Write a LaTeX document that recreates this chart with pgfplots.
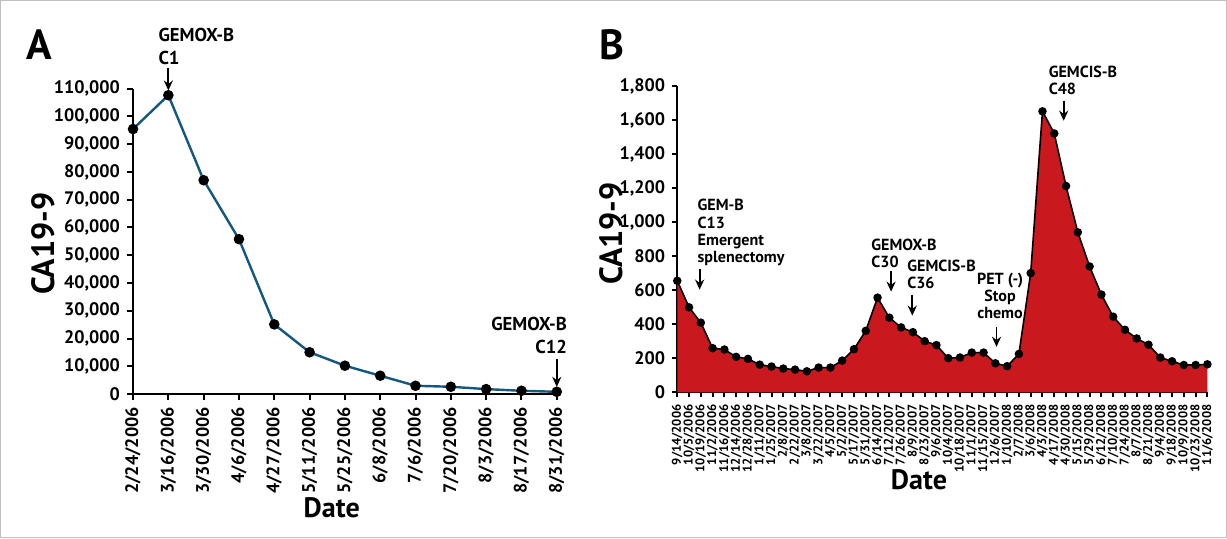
\documentclass[border=0pt]{standalone}
\usepackage{fontspec}
\setmainfont{PT Sans}
\usepackage{pgfplots}
\usepackage{pgfplotstable}
\pgfplotsset{compat=1.18}
\usetikzlibrary{arrows.meta}
\definecolor{lineblue}{HTML}{14587F}
\definecolor{fillred}{HTML}{C9191F}

% CA19-9, first line of therapy
\pgfplotstableread{
idx ca
0 95430
1 107600
2 77000
3 55780
4 25100
5 15070
6 10230
7 6620
8 3000
9 2640
10 1800
11 1200
12 830
}\panelA

% CA19-9, later lines
\pgfplotstableread{
idx ca
0 656
1 500
2 410
3 260
4 252
5 209
6 197
7 163
8 152
9 140
10 134
11 124
12 146
13 146
14 187
15 254
16 362
17 557
18 439
19 382
20 354
21 301
22 278
23 201
24 205
25 234
26 234
27 171
28 154
29 226
30 701
31 1652
32 1522
33 1213
34 941
35 740
36 575
37 445
38 368
39 317
40 280
41 205
42 183
43 161
44 161
45 165
}\panelB

\pgfplotsset{
  ca/.style={
    scale only axis, clip=false,
    axis x line*=bottom, axis y line*=left,
    axis line style={line width=1pt},
    tick align=outside, major tick length=3pt,
    every tick/.style={black, line width=1pt},
    scaled y ticks=false,
    tick label style={font=\bfseries\fontsize{9}{10}\selectfont},
    xticklabel style={rotate=90, anchor=east},
    xlabel style={font=\bfseries\fontsize{14}{16}\selectfont, anchor=center},
    ylabel style={font=\bfseries\fontsize{16}{18}\selectfont, anchor=center, rotate=0},
  },
}
\tikzset{
  note/.style={font=\bfseries\fontsize{9.3}{10}\selectfont, inner sep=0pt},
  noteB/.style={font=\bfseries\fontsize{8}{8.6}\selectfont, inner sep=0pt},
  down/.style={-{Stealth[length=5pt,width=4.5pt]}, line width=0.9pt},
}

\begin{document}
\begin{tikzpicture}
\draw[gray!50, line width=0.5pt] (1.5pt,1.5pt) rectangle (612pt,269pt);

\node[font=\bfseries\fontsize{21}{22}\selectfont] at (21pt,247pt) {A};
\node[font=\bfseries\fontsize{21}{22}\selectfont] at (306pt,247pt) {B};

\begin{axis}[ca,
  at={(67.5pt,73pt)}, anchor=origin,
  width=211pt, height=152.15pt,
  xmin=0, xmax=12, ymin=0, ymax=110000,
  xtick={0,...,12},
  xticklabels={2/24/2006,3/16/2006,3/30/2006,4/6/2006,4/27/2006,5/11/2006,5/25/2006,6/8/2006,7/6/2006,7/20/2006,8/3/2006,8/17/2006,8/31/2006},
  ytick={0,10000,20000,30000,40000,50000,60000,70000,80000,90000,100000,110000},
  yticklabels={0,{10,000},{20,000},{30,000},{40,000},{50,000},{60,000},{70,000},{80,000},{90,000},{100,000},{110,000}},
  xlabel={Date}, ylabel={CA19-9},
  xlabel style={at={(axis description cs:0.469,-0.371)}},
  ylabel style={at={(axis description cs:-0.213,0.493)}},
]
\addplot[lineblue, line width=1.2pt, mark=*, mark size=2pt,
  mark options={black, fill=black}] table[x=idx, y=ca] {\panelA};
\node[note, align=left, anchor=north west] at (axis cs:0.71,131900) {GEMOX-B\\[1.5pt]C1};
\draw[down] (axis cs:1,117500) -- (axis cs:1,109300);
\node[note, align=right, anchor=north east] at (axis cs:12.3,27800) {GEMOX-B\\[1.5pt]C12};
\draw[down] (axis cs:12,12600) -- (axis cs:12,2600);
\end{axis}

\begin{axis}[ca,
  at={(338.5pt,73.85pt)}, anchor=origin,
  width=264pt, height=152.5pt,
  xmin=0, xmax=45, ymin=0, ymax=1800,
  xtick={0,...,45},
  xticklabels={9/14/2006,10/5/2006,10/19/2006,11/2/2006,11/16/2006,12/14/2006,12/28/2006,1/11/2007,1/25/2007,2/8/2007,2/22/2007,3/8/2007,3/22/2007,4/5/2007,5/2/2007,5/17/2007,5/31/2007,6/14/2007,7/12/2007,7/26/2007,8/9/2007,8/23/2007,9/6/2007,10/4/2007,10/18/2007,11/1/2007,11/15/2007,12/6/2007,1/10/2008,2/7/2008,3/6/2008,4/3/2008,4/17/2008,4/30/2008,5/15/2008,5/29/2008,6/12/2008,7/10/2008,7/24/2008,8/7/2008,8/21/2008,9/4/2008,9/18/2008,10/9/2008,10/23/2008,11/6/2008},
  xticklabel style={font=\bfseries\fontsize{6.3}{7}\selectfont},
  major tick length=2.5pt,
  ytick={0,200,400,600,800,1000,1200,1400,1600,1800},
  yticklabels={0,200,400,600,800,{1,000},{1,200},{1,400},{1,600},{1,800}},
  xlabel={Date}, ylabel={CA19-9},
  xlabel style={at={(axis description cs:0.456,-0.284)}},
  ylabel style={at={(axis description cs:-0.125,0.519)}},
]
\addplot[fill=fillred, draw=none] table[x=idx, y=ca] {\panelB} \closedcycle;
\addplot[black, line width=0.8pt, mark=*, mark size=1.7pt,
  mark options={black, fill=black}] table[x=idx, y=ca] {\panelB};
\node[noteB, align=left, anchor=north west] at (axis cs:1.7,1136) {GEM-B\\C13\\Emergent\\splenectomy};
\draw[down] (axis cs:1.9,728) -- (axis cs:1.9,604);
\node[noteB, align=left, anchor=north west] at (axis cs:16.45,906) {GEMOX-B\\C30};
\draw[down] (axis cs:18.15,711) -- (axis cs:18.15,592);
\node[noteB, align=left, anchor=north west] at (axis cs:19.5,782) {GEMCIS-B\\C36};
\draw[down] (axis cs:19.95,575) -- (axis cs:19.95,451);
\node[noteB, align=center, anchor=north] at (axis cs:27.4,705) {PET (-)\\Stop\\chemo};
\draw[down] (axis cs:27.1,386) -- (axis cs:27.1,268);
\node[noteB, align=left, anchor=north west] at (axis cs:31.5,1922) {GEMCIS-B\\C48};
\draw[down] (axis cs:32.8,1715) -- (axis cs:32.8,1597);
\end{axis}
\end{tikzpicture}
\end{document}
